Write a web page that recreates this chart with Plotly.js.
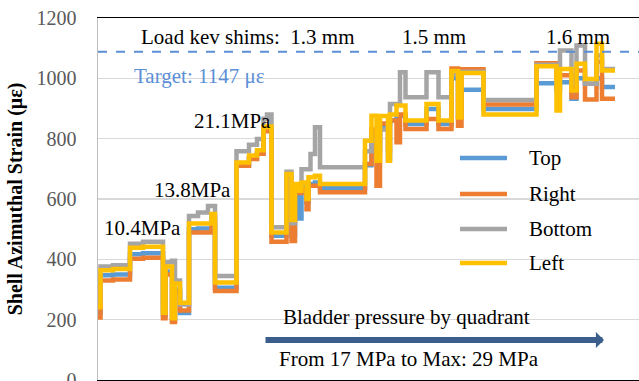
<!DOCTYPE html>
<html>
<head>
<meta charset="utf-8">
<script src="https://cdn.plot.ly/plotly-3.0.1.min.js"></script>
<style>html,body{margin:0;padding:0;background:#fff;}#chart{width:639px;height:381px;}</style>
</head>
<body>
<div id="chart"></div>
<script>
// sample position (arbitrary time units) where each step begins
const timeSteps = [0, 2.5, 15, 32, 45, 65, 67.5, 74, 77, 82, 91, 100, 110, 113.5, 117, 138.5, 151, 159, 165.5, 169, 173.5, 188.5, 193.5, 197, 200, 203.5, 208.5, 210.5, 212.5, 217, 222, 267, 273.5, 278.5, 282, 290, 292, 298.5, 302, 307.5, 328.5, 340.5, 353.5, 360, 363.5, 385.5, 438.5, 458.5, 462, 473.5, 478.5, 487, 498.5, 504, 517];
const strainTop    = [224, 347, 350, 417, 420, 215, 360, 200, 300, 222, 500, 502, 502, 540, 306, 712, 735, 752, 828, 830, 478, 670, 480, 630, 535, 640, 590, 650, 650, 655, 636, 712, 822, 760, 840, 732, 860, 876, 876, 849, 898, 849, 1000, 870, 962, 898, 984, 960, 987, 932, 1000, 982, 1000, 971, 971];
const strainRight  = [207, 330, 333, 402, 405, 205, 350, 192, 290, 230, 489, 489, 489, 523, 295, 710, 733, 750, 825, 828, 458, 666, 461, 622, 620, 630, 566, 644, 644, 644, 622, 716, 830, 644, 850, 760, 860, 788, 880, 832, 865, 832, 1033, 843, 1030, 913, 1050, 1000, 1010, 937, 1026, 930, 1055, 932, 932];
const strainBottom = [262, 376, 380, 452, 458, 235, 390, 395, 330, 250, 544, 555, 577, 577, 345, 758, 780, 799, 866, 880, 506, 690, 520, 644, 644, 699, 699, 699, 749, 838, 705, 758, 790, 790, 830, 850, 915, 915, 1020, 937, 1020, 937, 1012, 1012, 1022, 928, 1045, 1040, 1092, 982, 1109, 982, 1076, 1031, 1031];
const strainLeft   = [241, 364, 368, 438, 442, 223, 376, 205, 320, 256, 519, 519, 519, 550, 323, 721, 744, 762, 838, 840, 489, 683, 530, 650, 627, 655, 600, 672, 672, 677, 650, 793, 876, 727, 875, 727, 880, 910, 910, 860, 915, 860, 1024, 870, 1018, 880, 1040, 893, 1031, 960, 1048, 998, 1115, 1026, 1026];
const seriesNames = ['Top', 'Right', 'Bottom', 'Left'];
const targetLine = 1088;
const yTicks = [0, 200, 400, 600, 800, 1000, 1200];

const SERIF = '"Liberation Serif", "Times New Roman", serif';
const colors = ['#5B9BD5', '#ED7D31', '#A5A5A5', '#FFC000'];
const allSeries = [strainTop, strainRight, strainBottom, strainLeft];

const W = 639, H = 381, L = 98, R = 0, T = 18, B = 1;
const pw = W - L - R, ph = H - T - B;
const px = p => (p - L) / pw;
const py = p => (H - B - p) / ph;

const traces = allSeries.map((vals, i) => ({
  type: 'scatter', mode: 'lines', x: timeSteps, y: vals, name: seriesNames[i],
  showlegend: false,
  line: {color: colors[i], width: 4.5, shape: 'hv'}
}));

const txt = (text, x, y, color, extra) => Object.assign({
  text: text, xref: 'paper', yref: 'paper', x: px(x), y: py(y),
  xanchor: 'center', yanchor: 'middle', showarrow: false,
  font: {family: SERIF, size: 21, color: color || '#000'}
}, extra || {});

// legend (drawn as key lines + labels)
const legendY = [158, 194, 229, 263];
const legendShapes = seriesNames.map((n, i) => ({
  type: 'line', xref: 'paper', yref: 'paper', x0: px(460), x1: px(507), y0: py(legendY[i]), y1: py(legendY[i]),
  line: {color: colors[i], width: 4.5}
}));
const legendTexts = seriesNames.map((n, i) => txt(n, 527, legendY[i], '#000', {xanchor: 'left'}));

const layout = {
  width: W, height: H,
  margin: {l: L, r: R, t: T, b: B, pad: 0},
  paper_bgcolor: '#fff', plot_bgcolor: '#fff',
  showlegend: false,
  xaxis: {
    range: [0, 541], showgrid: false, showticklabels: false, zeroline: false,
    showline: true, linecolor: '#000', linewidth: 1.5, mirror: true, ticks: ''
  },
  yaxis: {
    range: [0, 1200], tickvals: yTicks, ticktext: yTicks.map(String),
    showgrid: true, gridcolor: '#d9d9d9', gridwidth: 1.5, zeroline: false,
    showline: true, linecolor: '#bfbfbf', linewidth: 1.5, ticks: '',
    ticklabelstandoff: 16, ticklabeloverflow: 'allow',
    tickfont: {family: SERIF, size: 20, color: '#595959'},
    title: {text: 'Shell Azimuthal Strain (με)', standoff: 8,
            font: {family: SERIF, size: 20, color: '#000', weight: 'bold'}}
  },
  shapes: [
    {type: 'line', xref: 'paper', yref: 'y', x0: 0, x1: 1, y0: targetLine, y1: targetLine,
     line: {color: '#5B8FD6', width: 2, dash: 'dash'}},
    {type: 'rect', xref: 'paper', yref: 'paper', x0: px(507), x1: px(610), y0: py(277), y1: py(130),
     fillcolor: '#fff', line: {width: 0}, layer: 'between'}
  ].concat(legendShapes),
  annotations: [
    txt('Load kev shims:  1.3 mm', 248, 37),
    txt('1.5 mm', 434, 37),
    txt('1.6 mm', 578, 37),
    txt('Target: 1147 με', 199, 76, '#5B8FD6'),
    txt('21.1MPa', 232, 121),
    txt('13.8MPa', 192, 190),
    txt('10.4MPa', 142, 228),
    txt('Bladder pressure by quadrant', 406, 317),
    txt('From 17 MPa to Max: 29 MPa', 409, 359),
    {text: '', xref: 'paper', yref: 'paper', x: px(604), y: py(340), axref: 'pixel', ayref: 'pixel',
     ax: -340, ay: 0, showarrow: true, arrowhead: 1, arrowsize: 0.45, arrowwidth: 6, arrowcolor: '#3B5E8C'}
  ].concat(legendTexts)
};

Plotly.newPlot('chart', traces, layout, {displayModeBar: false, staticPlot: true});
</script>
</body>
</html>
